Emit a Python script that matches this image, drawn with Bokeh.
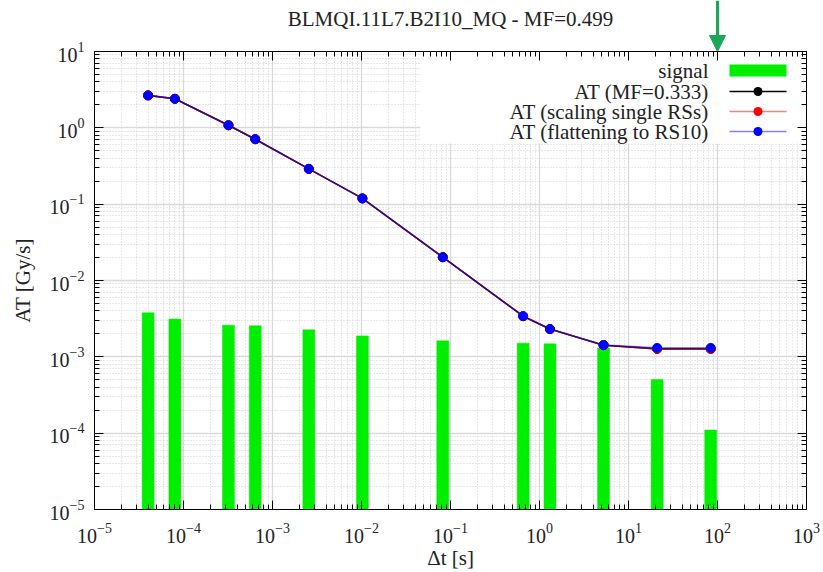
from bokeh.plotting import figure
from bokeh.layouts import column
from bokeh.models import (LogAxis, FixedTicker, Label, BoxAnnotation, Arrow,
                          NormalHead, Range1d)
from bokeh.embed import file_html
from bokeh.resources import INLINE
import numpy as np

# ---------------- data ----------------
running_sums = [4e-5, 8e-5, 3.2e-4, 6.4e-4, 2.56e-3, 1.024e-2, 8.192e-2,
                0.655, 1.311, 5.243, 20.97, 83.89]
signal = [3.77e-3, 3.12e-3, 2.60e-3, 2.55e-3, 2.26e-3, 1.88e-3, 1.62e-3,
          1.51e-3, 1.48e-3, 1.31e-3, 5.06e-4, 1.10e-4]
at_mf = [2.66, 2.40, 1.08, 0.71, 0.29, 0.119, 0.0202, 3.41e-3, 2.31e-3,
         1.42e-3, 1.27e-3, 1.27e-3]
at_scaling = [2.66, 2.40, 1.08, 0.71, 0.29, 0.119, 0.0202, 3.41e-3, 2.31e-3,
              1.42e-3, 1.27e-3, 1.27e-3]
at_flatten = [2.66, 2.40, 1.08, 0.71, 0.29, 0.119, 0.0202, 3.41e-3, 2.31e-3,
              1.43e-3, 1.31e-3, 1.31e-3]
marker_time = 100.0          # green arrow position on the time axis [s]
x_major = [1e-5, 1e-4, 1e-3, 1e-2, 1e-1, 1e0, 1e1, 1e2, 1e3]
y_major = [1e-5, 1e-4, 1e-3, 1e-2, 1e-1, 1e0, 1e1]
title_text = "BLMQI.11L7.B2I10_MQ - MF=0.499"
legend_labels = ["signal", "AT (MF=0.333)", "AT (scaling single RSs)",
                 "AT (flattening to RS10)"]

FONT = "Liberation Serif"
W, H = 823, 572
FL, FR, FT, FB = 94, 806, 51, 509   # frame edges in canvas px
OVERLAP = 22                        # main plot slides up over the header

def minors(majors):
    out = []
    for m in majors[:-1]:
        out += [m * k for k in range(2, 10)]
    return out

x_range = Range1d(1e-5, 1e3)

# ---------------- header strip: title + green arrow ----------------
hdr = figure(width=W, height=FT, x_axis_type="log", x_range=x_range,
             y_range=(0, 1), output_backend="svg", toolbar_location=None,
             x_axis_location=None, y_axis_location=None,
             min_border_left=FL, min_border_right=W - FR,
             min_border_top=0, min_border_bottom=0)
hdr.outline_line_color = None
hdr.grid.visible = False
hdr.background_fill_color = "white"
hdr.border_fill_color = "white"
hdr.add_layout(Label(x=(FR - FL) / 2, y=FT - 18, x_units="screen",
                     y_units="screen", text=title_text, text_align="center",
                     text_baseline="middle", text_font=FONT,
                     text_font_size="21px", text_color="#222222"))
ARROW_GREEN = "#1aa856"
hdr.add_layout(Arrow(x_start=marker_time, y_start=1.0, x_end=marker_time,
                     y_end=0.0, line_color=ARROW_GREEN, line_width=3,
                     end=NormalHead(size=16, fill_color=ARROW_GREEN,
                                    line_color=ARROW_GREEN, line_width=1)))

# ---------------- main plot ----------------
p = figure(width=W, height=H - FT + OVERLAP, x_axis_type="log",
           y_axis_type="log", x_range=x_range, y_range=(1e-5, 1e1),
           output_backend="svg", toolbar_location=None,
           min_border_left=FL, min_border_right=W - FR,
           min_border_top=OVERLAP, min_border_bottom=H - FB,
           margin=(-OVERLAP, 0, 0, 0))
p.background_fill_color = "white"
p.border_fill_color = None
p.outline_line_color = "black"
p.outline_line_width = 1

xt = FixedTicker(ticks=x_major, minor_ticks=minors(x_major))
yt = FixedTicker(ticks=y_major, minor_ticks=minors(y_major))

def style_axis(ax, show_labels=True):
    ax.major_tick_in = 9
    ax.major_tick_out = 0
    ax.minor_tick_in = 5
    ax.minor_tick_out = 0
    ax.axis_line_color = "black"
    ax.major_tick_line_color = "black"
    ax.minor_tick_line_color = "black"
    ax.major_label_text_font = FONT
    ax.major_label_text_font_size = "20px" if show_labels else "1px"
    ax.major_label_text_color = "#222222"
    if not show_labels:
        ax.major_label_text_alpha = 0
    ax.axis_label_text_font = FONT
    ax.axis_label_text_font_size = "21px"
    ax.axis_label_text_font_style = "normal"
    ax.axis_label_text_color = "#222222"

p.xaxis.ticker = xt
p.yaxis.ticker = yt
style_axis(p.xaxis[0])
style_axis(p.yaxis[0])
p.xaxis.axis_label = "Δt [s]"
p.yaxis.axis_label = "AT [Gy/s]"
p.xaxis.major_label_standoff = 13
p.yaxis.major_label_standoff = 10
p.xaxis.axis_label_standoff = 0
p.yaxis.axis_label_standoff = 12

top_ax = LogAxis(ticker=FixedTicker(ticks=x_major, minor_ticks=minors(x_major)))
right_ax = LogAxis(ticker=FixedTicker(ticks=y_major, minor_ticks=minors(y_major)))
style_axis(top_ax, False)
style_axis(right_ax, False)
top_ax.major_label_standoff = 0
right_ax.major_label_standoff = 0
p.add_layout(top_ax, "above")
p.add_layout(right_ax, "right")

p.xgrid.ticker = xt
p.ygrid.ticker = yt
for g in (p.xgrid[0], p.ygrid[0]):
    g.grid_line_color = "#d9d9d9"
    g.grid_line_width = 1.3
    g.minor_grid_line_color = "#d0d0d0"
    g.minor_grid_line_dash = "1 2"
    g.minor_grid_line_width = 1

# screen units are relative to the frame, measured from its bottom-left
def sx(xc):
    return xc - FL
def sy(yc):
    return FB - yc

# legend background (covers the grid)
box = BoxAnnotation(left=sx(420), right=sx(FR), top=sy(FT), bottom=sy(143),
                    left_units="screen", right_units="screen",
                    top_units="screen", bottom_units="screen",
                    fill_color="white", fill_alpha=1.0, line_alpha=0,
                    level="underlay")
p.add_layout(box)

# signal bars (constant pixel width on the log axis)
half = 10 ** 0.067
xs = np.array(running_sums)
p.quad(left=xs / half, right=xs * half, bottom=1e-6, top=signal,
       fill_color="#00ee00", line_color="#00ee00", line_width=0.5)

# AT curves
series = [(at_mf, "black", 1.0), (at_scaling, "#ff0000", 0.5),
          (at_flatten, "#0000ff", 0.5)]
for vals, col, la in series:
    p.line(running_sums, vals, line_color=col, line_width=1.6, line_alpha=la)
    p.scatter(running_sums, vals, size=9, fill_color=col, line_color=col)

# custom gnuplot-style legend (text right-aligned, sample on the right)
rows = [70, 91, 111, 131]
for lab, yc in zip(legend_labels, rows):
    p.add_layout(Label(x=sx(708), y=sy(yc), x_units="screen", y_units="screen",
                       text=lab, text_align="right", text_baseline="middle",
                       text_font=FONT, text_font_size="21px",
                       text_color="#222222"))
p.add_layout(BoxAnnotation(left=sx(729), right=sx(786), top=sy(64), bottom=sy(76),
                           left_units="screen", right_units="screen",
                           top_units="screen", bottom_units="screen",
                           fill_color="#00ee00", fill_alpha=1.0, line_alpha=0))
for (vals, col, la), yc in zip(series, rows[1:]):
    p.add_layout(Arrow(x_start=sx(729), y_start=sy(yc), x_end=sx(786), y_end=sy(yc),
                       start_units="screen", end_units="screen", end=None,
                       line_color=col, line_alpha=la, line_width=1.6))
    p.add_layout(BoxAnnotation(left=sx(753), right=sx(762), top=sy(yc - 4.5),
                               bottom=sy(yc + 4.5), border_radius=5,
                               left_units="screen", right_units="screen",
                               top_units="screen", bottom_units="screen",
                               fill_color=col, fill_alpha=1.0, line_alpha=0))

layout = column(hdr, p, spacing=0)
open("out.html", "w").write(file_html(layout, INLINE))
